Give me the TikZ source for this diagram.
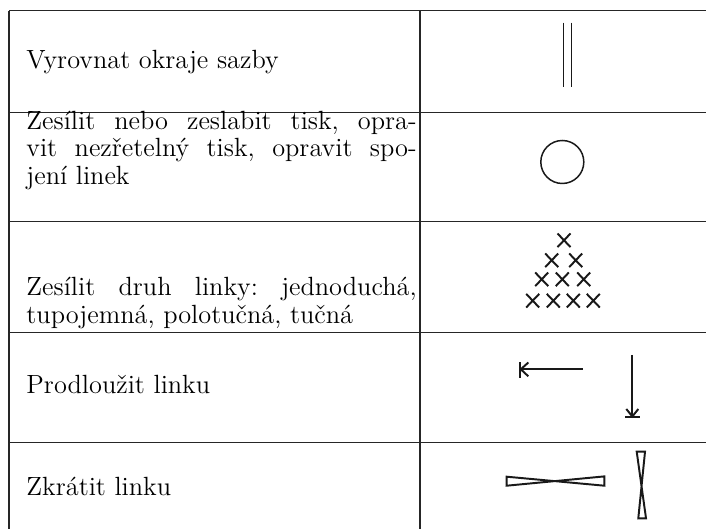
\documentclass[tikz,border=0pt]{standalone}
\usepackage{fontspec}
\begin{document}
\frenchspacing
\begin{tikzpicture}[x=0.4367pt,y=-0.4367pt,
  rule/.style={line width=0.55pt, draw=black!85},
  sym/.style={line width=0.65pt, draw=black!90},
  thick sym/.style={line width=0.85pt, draw=black!90},
  txt/.style={anchor=base west, inner sep=0pt, font=\fontsize{11.5pt}{13.5pt}\selectfont},
  xmark/.pic={\draw[thick sym] (-6.5,-6.8) -- (6.5,6.8) (-6.5,6.8) -- (6.5,-6.8);}]
\useasboundingbox (0,0) rectangle (706,529);
% table rules
\draw[rule] (9,10.7) -- (706,10.7);
\draw[rule] (9,10.7) -- (9,529);
\draw[rule] (420,10.7) -- (420,529);
\foreach \yy in {112.7,221.7,332.7,442.3} \draw[rule] (9,\yy) -- (706,\yy);
% texts
\node[txt] (t1) at (26,68.3) {Vyrovnat okraje sazby};
\node[txt] (t2a) at (26,129.5) {\makebox[170.4pt][s]{Zesílit nebo zeslabit tisk, opra-}};
\node[txt] (t2b) at (26,157) {\makebox[170.4pt][s]{vit nezřetelný tisk, opravit spo-}};
\node[txt] (t2c) at (26,184.5) {jení linek};
\node[txt] (t3a) at (26,296) {\makebox[170.4pt][s]{Zesílit druh linky: jednoduchá,}};
\node[txt] (t3b) at (26,323.5) {tupojemná, polotučná, tučná};
\node[txt] (t4) at (26,394) {Prodloužit linku};
\node[txt] (t5) at (26,495.7) {Zkrátit linku};
% row 1: double line
\draw[sym] (563.3,22.7) -- (563.3,87.3);
\draw[sym] (571.3,22.7) -- (571.3,87.3);
% row 2: circle
\draw[sym] (562.3,162) circle (21.5);
% row 3: crosses
\foreach \cx/\cy in {564/240.3, 551.7/260.3, 575.7/260.3,
  541.7/279.3, 562.3/279.3, 583.7/279.3,
  532.7/300.7, 553.3/300.7, 573.3/300.7, 593.3/300.7}
  \pic at (\cx,\cy) {xmark};
% row 4: lengthen arrows
\draw[thick sym] (582.7,369.3) -- (520,369.3);
\draw[thick sym] (528.3,362.5) -- (520.8,369.3) -- (528.3,376.3);
\draw[thick sym] (520,362.3) -- (520,377.7);
\draw[thick sym] (632.3,355) -- (632.3,417.3);
\draw[thick sym] (626.3,409) -- (632.3,416.5) -- (638.3,409);
\draw[thick sym] (625,417.3) -- (640,417.3);
% row 5: shorten bowties
\draw[thick sym, line join=miter] (506.7,476.7) -- (604.3,485.7) -- (604.3,476.4) -- (506.7,485.7) -- cycle;
\draw[thick sym, line join=miter] (636.7,451.7) -- (646,518.3) -- (638.3,518.3) -- (645,451.7) -- cycle;
\end{tikzpicture}
\end{document}
